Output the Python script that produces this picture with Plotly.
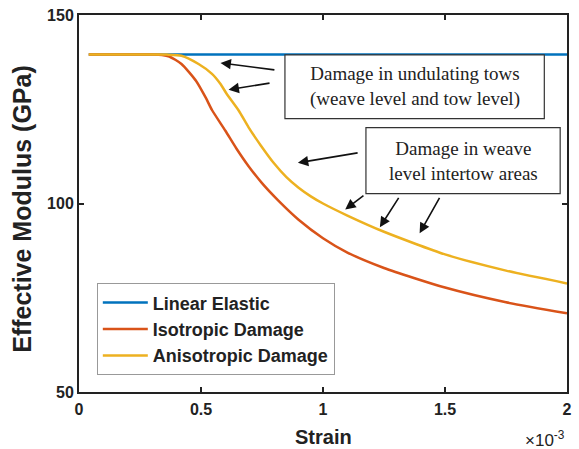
import plotly.graph_objects as go

# Strain values in units of 1e-3
strain_linear = [0.04, 2.0]
mod_linear = [139.5, 139.5]

strain_iso = [0.04, 0.30, 0.34, 0.37, 0.42, 0.48, 0.52, 0.545, 0.60, 0.645, 0.695,
              0.75, 0.815, 0.90, 1.0, 1.1, 1.25, 1.5, 1.75, 2.0]
mod_iso = [139.5, 139.5, 139.4, 139.0, 137.0, 132.5, 128.0, 124.8, 119.3, 114.6, 109.9,
           105.4, 100.9, 95.7, 90.8, 87.0, 82.9, 77.7, 73.8, 70.9]

strain_aniso = [0.04, 0.36, 0.42, 0.49, 0.545, 0.58, 0.605, 0.655, 0.695, 0.745, 0.80,
                0.85, 0.90, 0.95, 1.0, 1.1, 1.25, 1.5, 1.75, 2.0]
mod_aniso = [139.5, 139.5, 139.2, 137.0, 134.4, 131.7, 129.1, 124.6, 120.2, 115.4, 110.6,
             107.0, 104.2, 101.9, 100.0, 96.8, 92.5, 86.5, 82.2, 78.8]

x_ticks = [0, 0.5, 1, 1.5, 2]
x_tick_labels = ["0", "0.5", "1", "1.5", "2"]
y_ticks = [50, 100, 150]
y_tick_labels = ["50", "100", "150"]

names = ["Linear Elastic", "Isotropic Damage", "Anisotropic Damage"]
colors = ["#0072BD", "#D95319", "#EDB120"]

note1 = "Damage in undulating tows<br>(weave level and tow level)"
note2 = "Damage in weave<br>level intertow areas"

fig = go.Figure()
for i, (xs, ys) in enumerate([(strain_linear, mod_linear), (strain_iso, mod_iso),
                              (strain_aniso, mod_aniso)]):
    fig.add_trace(go.Scatter(x=xs, y=ys, mode="lines", name=names[i],
                             line=dict(color=colors[i], width=2.5, shape="spline",
                                       smoothing=0.6)))

axis_common = dict(showline=True, linecolor="#222222", linewidth=2, mirror="ticks",
                   ticks="inside", ticklen=5, tickwidth=1.5, tickcolor="#222222",
                   showgrid=False, zeroline=False,
                   tickfont=dict(family="Liberation Sans", size=16, color="#222222",
                                 weight="bold"))

fig.update_xaxes(range=[0, 2], tickvals=x_ticks, ticktext=x_tick_labels,
                 ticklabelstandoff=2, **axis_common)
fig.update_yaxes(range=[50, 150], tickvals=y_ticks, ticktext=y_tick_labels, **axis_common)

serif = dict(family="Liberation Serif", size=19, color="#222222")
sans_b = dict(family="Liberation Sans", color="#222222", weight="bold")

shapes = [
    dict(type="rect", xref="x", yref="y", x0=0.844, x1=1.907, y0=122.5, y1=139.4,
         line=dict(color="#333333", width=1.2), fillcolor="white", layer="above"),
    dict(type="rect", xref="x", yref="y", x0=1.176, x1=1.972, y0=102.6, y1=120.1,
         line=dict(color="#333333", width=1.2), fillcolor="white", layer="above"),
]

annotations = [
    dict(x=1.375, y=130.95, xref="x", yref="y", text=note1,
         showarrow=False, font=serif, align="center"),
    dict(x=1.574, y=111.2, xref="x", yref="y", text=note2,
         showarrow=False, font=serif, align="center"),
]

arrows = [
    ((0.807, 135.4), (0.580, 137.3)),
    ((0.787, 132.0), (0.613, 130.2)),
    ((1.148, 113.5), (0.897, 110.8)),
    ((1.172, 102.4), (1.091, 98.4)),
    ((1.314, 101.9), (1.233, 93.7)),
    ((1.481, 101.9), (1.396, 92.1)),
]
for (tx, ty), (hx, hy) in arrows:
    annotations.append(dict(x=hx, y=hy, ax=tx, ay=ty, xref="x", yref="y",
                            axref="x", ayref="y", text="", showarrow=True,
                            arrowhead=2, arrowsize=1.3, arrowwidth=1.6,
                            arrowcolor="#111111", standoff=0))

annotations += [
    dict(x=0.5, y=-0.119, xref="paper", yref="paper", text="Strain", showarrow=False,
         font=dict(size=20, **sans_b), xanchor="center", yanchor="middle"),
    dict(x=-0.116, y=0.487, xref="paper", yref="paper", text="Effective Modulus (GPa)",
         showarrow=False, textangle=-90, font=dict(size=25, **sans_b),
         xanchor="center", yanchor="middle"),
    dict(x=1.0, y=-0.124, xref="paper", yref="paper",
         text="×10<sup>-3</sup>", showarrow=False,
         font=dict(size=17, family="Liberation Sans", color="#222222"),
         xanchor="right", yanchor="middle"),
]

fig.update_layout(
    width=579, height=449,
    margin=dict(l=79, r=7, t=14, b=57),
    paper_bgcolor="white", plot_bgcolor="white",
    showlegend=True,
    legend=dict(x=0.0365, y=0.288, xanchor="left", yanchor="top",
                bgcolor="white", bordercolor="#999999", borderwidth=1,
                font=dict(size=18, **sans_b), itemwidth=45),
    shapes=shapes,
    annotations=annotations,
)

fig.write_html("out.html", config={"displayModeBar": False},
               post_script="document.body.style.margin='0';document.body.style.padding='0';")
